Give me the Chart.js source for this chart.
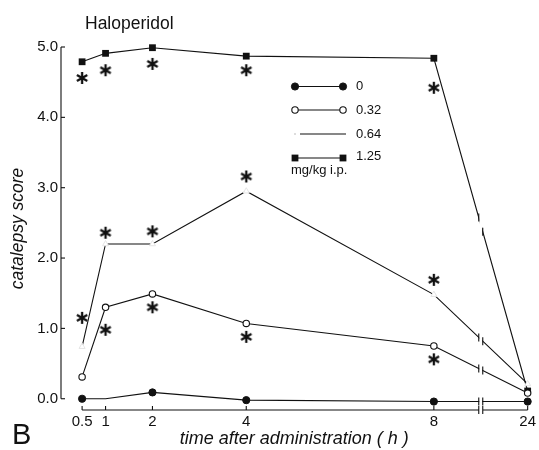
<!DOCTYPE html>
<html><head><meta charset="utf-8">
<script src="https://cdn.jsdelivr.net/npm/chart.js@4"></script>
<style>html,body{margin:0;padding:0;background:#fff}</style>
</head><body>
<canvas id="c" width="539" height="450"></canvas>
<script>
// ---- data ----
const times = ['0.5', '1', '2', '4', '8', '24'];           // hours (tick labels)
const axisPos = [0.5, 1, 2, 4, 8, 10];                      // position on the broken time axis
const breakPos = 9;                                         // axis break between 8 and 24 h
const dose0   = [0.00, 0.00, 0.09, -0.02, -0.04, -0.04];
const dose032 = [0.31, 1.30, 1.49, 1.07, 0.75, 0.08];
const dose064 = [0.74, 2.20, 2.20, 2.95, 1.48, 0.21];
const dose125 = [4.79, 4.91, 4.99, 4.87, 4.84, 0.11];
const yTicks  = [0, 1, 2, 3, 4, 5];
const doseLabels = ['0', '0.32', '0.64', '1.25'];
// significance asterisks (time position, score)
const starX = [0.5, 1, 2, 4, 8,   0.5, 1, 2, 4, 8,   1, 2, 4, 8];
const starY = [4.56, 4.67, 4.76, 4.67, 4.42,   1.15, 2.36, 2.38, 3.16, 1.69,   0.98, 1.30, 0.88, 0.56];

const FONT = '"Liberation Sans", Arial, Helvetica, sans-serif';
const INK = '#111';

function pts(arr) { return arr.map((v, i) => ({x: axisPos[i], y: v})); }

// asterisk glyph as point style
const star = document.createElement('canvas');
star.width = 16; star.height = 16;
(function () {
  const g = star.getContext('2d');
  g.strokeStyle = INK; g.lineWidth = 2.3; g.lineCap = 'butt';
  const c = 8, r = 6;
  for (let k = 0; k < 3; k++) {
    const a = Math.PI / 2 + k * Math.PI / 3;
    g.beginPath();
    g.moveTo(c + r * Math.cos(a), c + r * Math.sin(a));
    g.lineTo(c - r * Math.cos(a), c - r * Math.sin(a));
    g.stroke();
  }
})();

const base = {borderColor: INK, borderWidth: 1.1, tension: 0, clip: false, fill: false};
const datasets = [
  Object.assign({label: doseLabels[0], data: pts(dose0), pointStyle: 'circle', pointRadius: [3.6, 0, 3.6, 3.6, 3.6, 3.6],
    pointBackgroundColor: INK, pointBorderColor: INK, pointBorderWidth: 1}, base),
  Object.assign({label: doseLabels[1], data: pts(dose032), pointStyle: 'circle', pointRadius: 3.2,
    pointBackgroundColor: '#fff', pointBorderColor: INK, pointBorderWidth: 1.1}, base),
  Object.assign({label: doseLabels[2], data: pts(dose064), pointStyle: 'triangle', pointRadius: 3.5,
    pointBackgroundColor: '#fff', pointBorderColor: '#e4e4e4', pointBorderWidth: 1}, base),
  Object.assign({label: doseLabels[3], data: pts(dose125), pointStyle: 'rect', pointRadius: 4.8,
    pointBackgroundColor: INK, pointBorderColor: INK, pointBorderWidth: 0}, base),
  {label: 'sig', type: 'scatter', data: starX.map((x, i) => ({x, y: starY[i]})), pointStyle: star,
    pointRadius: 8, clip: false, showLine: false}
];

const decor = {
  id: 'decor',
  afterDatasetsDraw(chart) {
    const {ctx, chartArea: a, scales: {x, y}} = chart;
    ctx.save();
    ctx.strokeStyle = INK; ctx.lineWidth = 1.1; ctx.fillStyle = INK;
    // y axis
    const yl = a.left;
    ctx.beginPath(); ctx.moveTo(yl, y.getPixelForValue(yTicks[0])); ctx.lineTo(yl, y.getPixelForValue(yTicks[yTicks.length - 1])); ctx.stroke();
    yTicks.forEach(t => { const py = y.getPixelForValue(t); ctx.beginPath(); ctx.moveTo(yl, py); ctx.lineTo(yl + 4, py); ctx.stroke(); });
    // x axis with break
    const xb = a.bottom, bx = x.getPixelForValue(breakPos);
    ctx.beginPath();
    ctx.moveTo(x.getPixelForValue(axisPos[0]), xb); ctx.lineTo(bx - 2, xb);
    ctx.moveTo(bx + 2, xb); ctx.lineTo(x.getPixelForValue(axisPos[axisPos.length - 1]), xb);
    ctx.moveTo(bx - 2, xb - 4); ctx.lineTo(bx - 2, xb + 4);
    ctx.moveTo(bx + 2, xb - 4); ctx.lineTo(bx + 2, xb + 4);
    ctx.stroke();
    axisPos.forEach(t => { const px = x.getPixelForValue(t); ctx.beginPath(); ctx.moveTo(px, xb); ctx.lineTo(px, xb - 4); ctx.stroke(); });
    // breaks on the lines
    for (let d = 0; d < 4; d++) {
      const m = chart.getDatasetMeta(d).data;
      const p1 = m[4], p2 = m[5];
      const yAt = X => p1.y + (p2.y - p1.y) * (X - p1.x) / (p2.x - p1.x);
      const ya = yAt(bx - 2), yb = yAt(bx + 2);
      ctx.fillStyle = '#fff';
      ctx.fillRect(bx - 1.5, Math.min(ya, yb) - 1.5, 3, Math.abs(yb - ya) + 3);
      ctx.beginPath();
      ctx.moveTo(bx - 2, ya - 4); ctx.lineTo(bx - 2, ya + 4);
      ctx.moveTo(bx + 2, yb - 4); ctx.lineTo(bx + 2, yb + 4);
      ctx.stroke();
    }
    // legend
    ctx.fillStyle = INK; ctx.font = '13px ' + FONT; ctx.textBaseline = 'middle'; ctx.textAlign = 'left';
    const rows = [86.5, 110, 134, 158];
    rows.forEach((ry, i) => {
      const ds = chart.data.datasets[i];
      ctx.strokeStyle = INK; ctx.lineWidth = 1.1;
      ctx.beginPath(); ctx.moveTo(i === 2 ? 300 : 295, ry); ctx.lineTo(i === 2 ? 346 : 343, ry); ctx.stroke();
      if (i !== 2) {
        [295, 343].forEach(px => {
          ctx.fillStyle = ds.pointBackgroundColor; ctx.strokeStyle = ds.pointBorderColor; ctx.lineWidth = ds.pointBorderWidth || 0.01;
          ctx.beginPath();
          if (ds.pointStyle === 'rect') { ctx.rect(px - 3.4, ry - 3.4, 6.8, 6.8); ctx.fill(); }
          else { ctx.arc(px, ry, i === 0 ? 3.6 : 3.2, 0, Math.PI * 2); ctx.fill(); ctx.stroke(); }
        });
      } else {
        ctx.fillStyle = '#ddd'; ctx.fillRect(294, ry - 1, 2, 2);
      }
      ctx.fillStyle = INK;
      ctx.fillText(doseLabels[i], 356, i === 3 ? ry - 2 : ry);
    });
    ctx.fillText('mg/kg i.p.', 291, 170);
    // panel texts
    ctx.font = '17.5px ' + FONT;
    ctx.fillText('Haloperidol', 85, 24);
    ctx.font = '29px ' + FONT;
    ctx.fillText('B', 12, 436);
    ctx.restore();
  }
};

new Chart(document.getElementById('c'), {
  type: 'line',
  data: {datasets},
  plugins: [decor],
  options: {
    responsive: false, animation: false, devicePixelRatio: 1,
    layout: {padding: {left: 0, top: 47, right: 11, bottom: 0}},
    plugins: {legend: {display: false}, tooltip: {enabled: false}, title: {display: false}},
    scales: {
      x: {
        type: 'linear', min: 0.05, max: 10,
        afterBuildTicks: s => { s.ticks = axisPos.map(v => ({value: v})); },
        afterFit: s => { s.height = 40; },
        grid: {display: false, drawTicks: false}, border: {display: false},
        ticks: {autoSkip: false, maxRotation: 0, padding: 3, color: INK, font: {family: FONT, size: 15},
          callback: v => { const i = axisPos.indexOf(v); return i >= 0 ? times[i] : ''; }},
        title: {display: true, text: 'time after administration ( h )', color: INK,
          font: {family: FONT, size: 18, style: 'italic'}, padding: {top: 0, bottom: 0}}
      },
      y: {
        type: 'linear', min: -0.16, max: 5,
        afterBuildTicks: s => { s.ticks = yTicks.map(v => ({value: v})); },
        afterFit: s => { s.width = 61; },
        grid: {display: false, drawTicks: false}, border: {display: false},
        ticks: {padding: 3, color: INK, font: {family: FONT, size: 15}, callback: v => v.toFixed(1)},
        title: {display: true, text: 'catalepsy score', color: INK,
          font: {family: FONT, size: 17.5, style: 'italic'}, padding: {top: 8, bottom: 0}}
      }
    }
  }
});
</script>
</body></html>
